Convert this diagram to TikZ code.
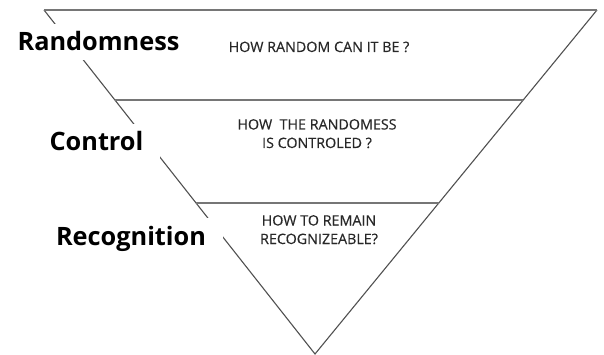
\documentclass[tikz,border=0pt]{standalone}
\usepackage{fontspec}
\setmainfont{Open Sans}
\newfontfamily\questionfont[FakeBold=0.4]{Open Sans}
\usetikzlibrary{calc}
\definecolor{edgegray}{RGB}{80,80,80}
\definecolor{bandgray}{RGB}{118,118,118}
\definecolor{qtext}{RGB}{40,40,40}
\begin{document}
\begin{tikzpicture}[x=1pt,y=-1pt,
  edge/.style={draw=edgegray,line width=1.1pt,line join=miter},
  band/.style={draw=bandgray,line width=1.8pt},
  level/.style={fill=white,font=\fontsize{25.3}{28}\selectfont\bfseries,
    text height=18pt,text depth=0pt,inner ysep=9pt,inner xsep=17pt,anchor=base},
  question/.style={text=qtext,align=center,anchor=base,inner sep=0pt,
    font=\questionfont\fontsize{14.3}{18.5}\selectfont}]
\useasboundingbox (0,0) rectangle (604,355);
% corners of the inverted triangle
\coordinate (tl) at (44,10);
\coordinate (tr) at (597,10);
\coordinate (tip) at (315,354);
% band dividers
\coordinate (b1l) at ($(tl)!0.2616!(tip)$);
\coordinate (b1r) at ($(tr)!0.2616!(tip)$);
\coordinate (b2l) at ($(tl)!0.561!(tip)$);
\coordinate (b2r) at ($(tr)!0.561!(tip)$);
\draw[edge] (tl) -- (tip) -- (tr);
\draw[band] (tl) -- (tr);
\draw[band] (b1l) -- (b1r);
\draw[band] (b2l) -- (b2r);
% level names, masking the left edge
\node[level] (rand) at (98.5,51) {Randomness};
\node[level] (ctrl) at (96.5,151) {Control};
\node[level] (recog) at (131,245) {Recognition};
% questions
\node[question] (q1) at (319,52) {HOW RANDOM CAN IT BE ?};
\node[question] (q2) at (317,148) {HOW\ \ THE RANDOMESS\\IS CONTROLED ?};
\node[question] (q3) at (319,244) {HOW TO REMAIN\\RECOGNIZEABLE?};
\end{tikzpicture}
\end{document}
